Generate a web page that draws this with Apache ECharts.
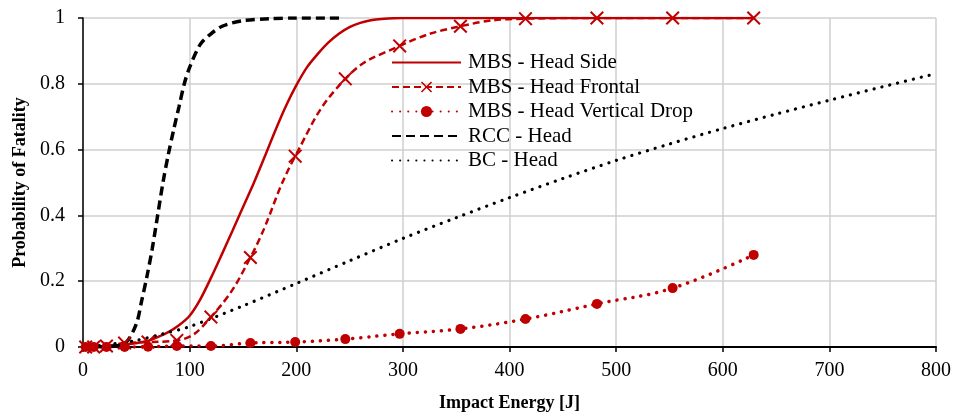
<!DOCTYPE html>
<html>
<head>
<meta charset="utf-8">
<script src="https://cdn.jsdelivr.net/npm/echarts@6/dist/echarts.min.js"></script>
<style>
  html, body { margin: 0; padding: 0; background: #fff; }
  #chart { width: 954px; height: 414px; }
</style>
</head>
<body>
<div id="chart"></div>
<script>
// MBS impact points (frontal + vertical drop share the same energies)
const mbsEnergy = [2.5, 10, 22, 39, 61, 88, 120, 157, 199, 246, 297, 354, 415, 482, 553, 629];
const frontalProb = [0, 0, 0.003, 0.012, 0.015, 0.02, 0.091, 0.272, 0.58, 0.815, 0.915, 0.975, 0.998, 1, 1, 1];
const dropProb = [0, 0, 0, 0, 0.001, 0.003, 0.003, 0.012, 0.015, 0.024, 0.04, 0.055, 0.085, 0.131, 0.179, 0.28];

// MBS - Head Side (smooth curve)
const sideEnergy = [0, 20, 40, 60, 70, 80, 90, 100, 110, 120, 130, 140, 150, 160, 170, 180, 190, 200, 210, 220, 230, 240, 250, 260, 270, 280, 300, 400, 500, 629];
const sideProb = [0, 0.002, 0.007, 0.018, 0.03, 0.045, 0.066, 0.095, 0.145, 0.21, 0.28, 0.352, 0.425, 0.497, 0.575, 0.655, 0.73, 0.795, 0.85, 0.89, 0.925, 0.952, 0.972, 0.985, 0.993, 0.997, 1, 1, 1, 1];

// RCC - Head
const rccEnergy = [0, 20, 30, 40, 50, 55, 60, 65, 70, 75, 80, 85, 90, 95, 100, 110, 120, 130, 140, 150, 175, 200, 241];
const rccProb = [0, 0.001, 0.003, 0.012, 0.07, 0.14, 0.215, 0.30, 0.40, 0.50, 0.585, 0.66, 0.73, 0.80, 0.85, 0.92, 0.952, 0.974, 0.985, 0.992, 0.998, 1, 1];

// BC - Head
const bcEnergy = [0, 25, 50, 75, 100, 150, 200, 250, 300, 350, 400, 450, 500, 550, 600, 650, 700, 750, 800];
const bcProb = [0, 0.008, 0.02, 0.04, 0.062, 0.125, 0.193, 0.262, 0.33, 0.393, 0.454, 0.512, 0.567, 0.617, 0.664, 0.708, 0.75, 0.791, 0.831];

const seriesNames = ['MBS - Head Side', 'MBS - Head Frontal', 'MBS - Head Vertical Drop', 'RCC - Head', 'BC - Head'];

const pairs = (xs, ys) => xs.map((x, i) => [x, ys[i]]);

const RED = '#c00000';
const FONT = '"Liberation Serif", "Times New Roman", serif';
const crossPath = 'path://M0,1 L1,0 L5,4 L9,0 L10,1 L6,5 L10,9 L9,10 L5,6 L1,10 L0,9 L4,5 Z';
// legend items for line-only series: hide the default circle symbol
const noMarker = { color: 'rgba(0,0,0,0)', borderWidth: 0 };

const chart = echarts.init(document.getElementById('chart'));

const option = {
  animation: false,
  backgroundColor: '#fff',
  textStyle: { fontFamily: FONT },
  grid: { left: 83, right: 18, top: 18, bottom: 67, outerBoundsMode: 'none' },
  legend: {
    orient: 'vertical',
    left: 386,
    top: 47,
    itemWidth: 69,
    itemHeight: 14,
    itemGap: 3.5,
    textStyle: { fontFamily: FONT, fontSize: 21, color: '#000', padding: [0, 0, 0, 2] },
    data: [
      { name: seriesNames[0], itemStyle: noMarker },
      { name: seriesNames[1] },
      { name: seriesNames[2] },
      { name: seriesNames[3], itemStyle: noMarker },
      { name: seriesNames[4], itemStyle: noMarker }
    ]
  },
  xAxis: {
    type: 'value',
    min: 0,
    max: 800,
    interval: 100,
    name: 'Impact Energy [J]',
    nameLocation: 'middle',
    nameGap: 47,
    nameTextStyle: { fontFamily: FONT, fontSize: 18, fontWeight: 'bold', color: '#000' },
    axisLine: { show: true, onZero: false, lineStyle: { color: '#000', width: 2 } },
    axisTick: { show: true, length: 5, lineStyle: { color: '#000', width: 1.5 } },
    axisLabel: { fontFamily: FONT, fontSize: 20, color: '#000', margin: 14 },
    splitLine: { show: true, lineStyle: { color: '#cfcfcf', width: 1.5 } }
  },
  yAxis: {
    type: 'value',
    min: 0,
    max: 1,
    interval: 0.2,
    name: 'Probability of Fatality',
    nameLocation: 'middle',
    nameGap: 50,
    nameTextStyle: { fontFamily: FONT, fontSize: 18, fontWeight: 'bold', color: '#000' },
    axisLine: { show: true, lineStyle: { color: '#000', width: 1.5 } },
    axisTick: { show: true, length: 5, lineStyle: { color: '#000', width: 1.5 } },
    axisLabel: { fontFamily: FONT, fontSize: 20, color: '#000', margin: 18 },
    splitLine: { show: true, lineStyle: { color: '#cfcfcf', width: 1.5 } }
  },
  series: [
    {
      name: seriesNames[0],
      type: 'line',
      data: pairs(sideEnergy, sideProb),
      smooth: 0.3,
      symbol: 'none',
      color: RED,
      lineStyle: { color: RED, width: 2.5 }
    },
    {
      name: seriesNames[1],
      type: 'line',
      data: pairs(mbsEnergy, frontalProb),
      smooth: 0.45,
      symbol: crossPath,
      symbolSize: 14,
      showAllSymbol: true,
      color: RED,
      itemStyle: { color: RED },
      lineStyle: { color: RED, width: 2.5, type: [7, 4] }
    },
    {
      name: seriesNames[2],
      type: 'line',
      data: pairs(mbsEnergy, dropProb),
      smooth: 0.4,
      symbol: 'circle',
      symbolSize: 10,
      showAllSymbol: true,
      color: RED,
      itemStyle: { color: RED },
      lineStyle: { color: RED, width: 3.5, type: [0.1, 8], cap: 'round' }
    },
    {
      name: seriesNames[3],
      type: 'line',
      data: pairs(rccEnergy, rccProb),
      smooth: 0.3,
      symbol: 'none',
      color: '#000',
      lineStyle: { color: '#000', width: 3.5, type: [9, 5] }
    },
    {
      name: seriesNames[4],
      type: 'line',
      data: pairs(bcEnergy, bcProb),
      smooth: 0.3,
      symbol: 'none',
      color: '#000',
      lineStyle: { color: '#000', width: 3.2, type: [0.1, 8], cap: 'round' }
    }
  ]
};

chart.setOption(option);
</script>
</body>
</html>
